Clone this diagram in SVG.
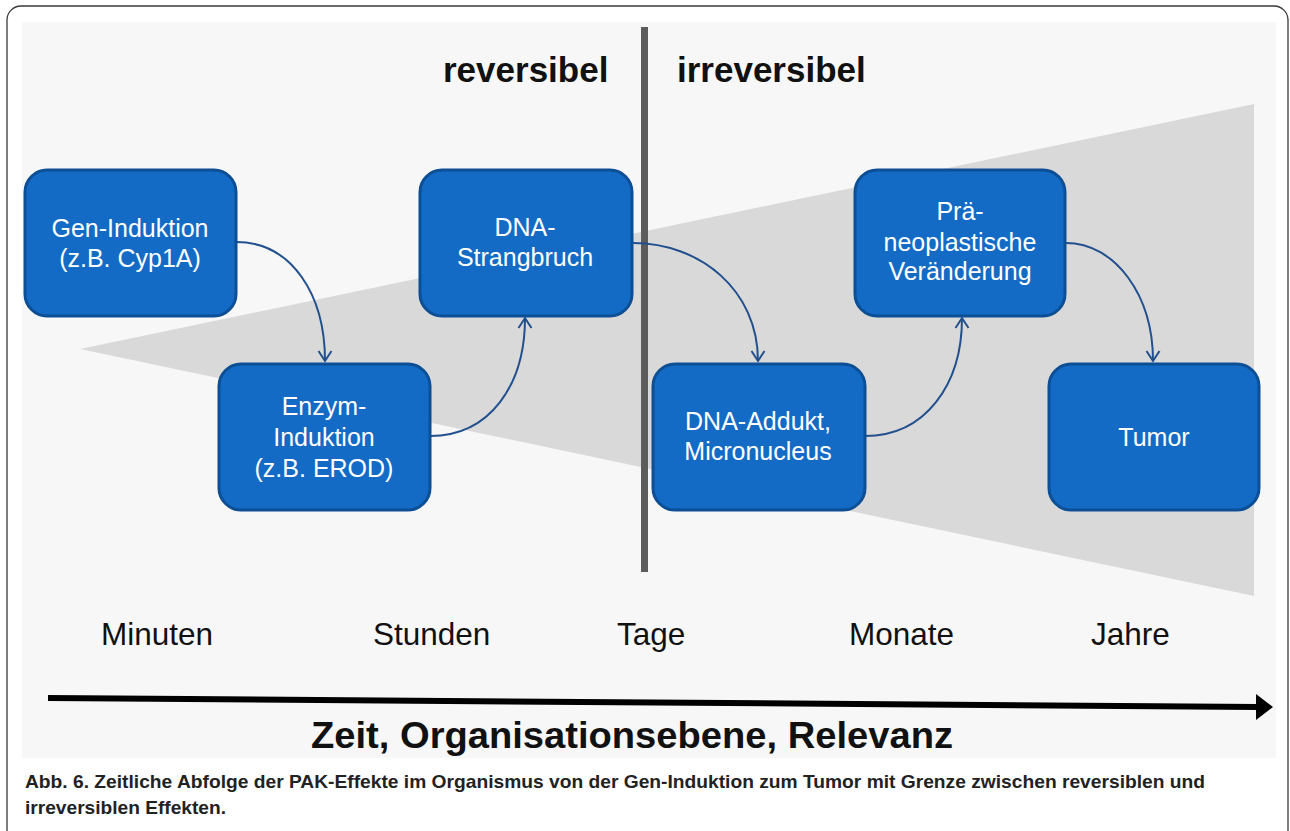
<svg xmlns="http://www.w3.org/2000/svg" width="1290" height="831" viewBox="0 0 1290 831">
  <style>
    .node rect { fill: #136bc5; stroke: #0d4f95; stroke-width: 3; }
    .node text { fill: #ffffff; font-family: "Liberation Sans", Arial, sans-serif; font-size: 25px; text-anchor: middle; }
    .conn path { fill: none; stroke: #22508d; stroke-width: 2; }
    .time { fill: #111111; font-family: "Liberation Sans", Arial, sans-serif; font-size: 31.5px; }
    .head { fill: #111111; font-family: "Liberation Sans", Arial, sans-serif; font-size: 35px; font-weight: bold; }
    .cap { fill: #222222; font-family: "Liberation Sans", Arial, sans-serif; font-size: 18.5px; font-weight: bold; }
  </style>
  <defs>
    <marker id="open" viewBox="-12 -8 14 16" refX="0" refY="0" markerWidth="14" markerHeight="16" markerUnits="userSpaceOnUse" orient="auto">
      <path d="M-10,-6.5 L0,0 L-10,6.5" fill="none" stroke="#22508d" stroke-width="2"/>
    </marker>
  </defs>

  <rect x="0" y="0" width="1290" height="831" fill="#ffffff"/>
  <rect x="7" y="6" width="1281" height="840" rx="14" fill="#ffffff" stroke="#3a3a3a" stroke-width="1.3"/>
  <rect x="22" y="22" width="1254" height="736" fill="#f7f7f7"/>

  <polygon points="80,349 1254,104 1254,596" fill="#d9d9d9"/>

  <rect x="641" y="27" width="7" height="545" fill="#5c5c5c"/>

  <text class="head" x="443" y="82">reversibel</text>
  <text class="head" x="677" y="82">irreversibel</text>

  <g class="conn">
    <path d="M236,242 C292,242 325,295 325,361" marker-end="url(#open)"/>
    <path d="M430,436 C490,436 525,385 525,318" marker-end="url(#open)"/>
    <path d="M633,243 C700,243 758,290 758,361" marker-end="url(#open)"/>
    <path d="M865,436 C925,436 962,385 962,318" marker-end="url(#open)"/>
    <path d="M1066,243 C1115,243 1153,295 1153,361" marker-end="url(#open)"/>
  </g>

  <g id="n1" class="node">
    <rect x="25" y="170" width="211" height="146" rx="22"/>
    <text x="130" y="237">Gen-Induktion</text>
    <text x="130" y="267">(z.B. Cyp1A)</text>
  </g>
  <g id="n2" class="node">
    <rect x="219" y="364" width="211" height="146" rx="22"/>
    <text x="324" y="415">Enzym-</text>
    <text x="324" y="446">Induktion</text>
    <text x="324" y="477">(z.B. EROD)</text>
  </g>
  <g id="n3" class="node">
    <rect x="420" y="170" width="212" height="146" rx="22"/>
    <text x="525" y="236">DNA-</text>
    <text x="525" y="266">Strangbruch</text>
  </g>
  <g id="n4" class="node">
    <rect x="653" y="364" width="212" height="146" rx="22"/>
    <text x="758" y="430">DNA-Addukt,</text>
    <text x="758" y="460">Micronucleus</text>
  </g>
  <g id="n5" class="node">
    <rect x="855" y="170" width="210" height="146" rx="22"/>
    <text x="960" y="220">Prä-</text>
    <text x="960" y="251">neoplastische</text>
    <text x="960" y="280">Veränderung</text>
  </g>
  <g id="n6" class="node">
    <rect x="1049" y="364" width="210" height="146" rx="22"/>
    <text x="1154" y="446">Tumor</text>
  </g>

  <text class="time" x="101" y="645">Minuten</text>
  <text class="time" x="373" y="645">Stunden</text>
  <text class="time" x="617" y="645">Tage</text>
  <text class="time" x="849" y="645">Monate</text>
  <text class="time" x="1091" y="645">Jahre</text>

  <g id="axis">
    <polygon points="48,695 1258,704 1258,710 48,701" fill="#000000"/>
    <polygon points="1256,694 1273,707 1256,720" fill="#000000"/>
  </g>
  <text class="head" x="311" y="748" textLength="642" lengthAdjust="spacingAndGlyphs" style="font-size:36px">Zeit, Organisationsebene, Relevanz</text>

  <text class="cap" x="25" y="788" textLength="1180" lengthAdjust="spacingAndGlyphs">Abb. 6. Zeitliche Abfolge der PAK-Effekte im Organismus von der Gen-Induktion zum Tumor mit Grenze zwischen reversiblen und</text>
  <text class="cap" x="25" y="814" textLength="201" lengthAdjust="spacingAndGlyphs">irreversiblen Effekten.</text>
</svg>
